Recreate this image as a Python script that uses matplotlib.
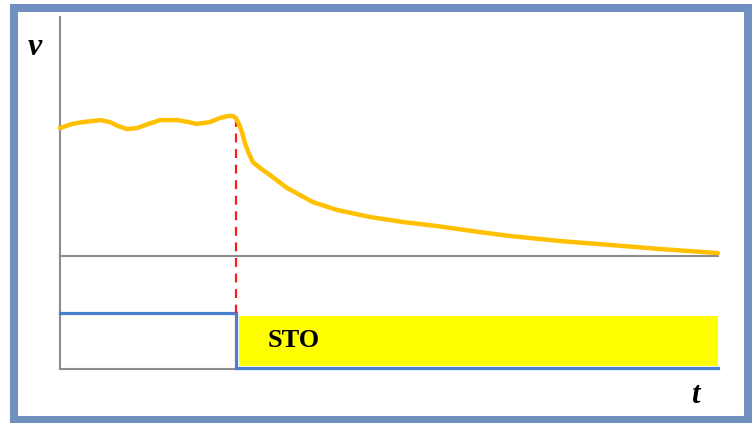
import matplotlib.pyplot as plt
from matplotlib.patches import Rectangle

# speed curve (t, v)
t = [0.0, 0.18, 0.35, 0.61, 0.76, 0.88, 1.02, 1.17, 1.34, 1.52, 1.78, 1.95,
     2.08, 2.28, 2.43, 2.55, 2.63, 2.67, 2.72, 2.77, 2.81, 2.86, 2.93, 3.04,
     3.19, 3.45, 3.84, 4.21, 4.71, 5.21, 5.73, 6.38, 6.84, 7.60, 8.36, 9.12,
     10.0]
v = [9.14, 9.43, 9.57, 9.71, 9.57, 9.29, 9.07, 9.14, 9.43, 9.71, 9.71, 9.57,
     9.43, 9.57, 9.86, 10.0, 10.0, 9.86, 9.43, 8.79, 8.07, 7.43, 6.71, 6.29,
     5.79, 4.86, 3.86, 3.29, 2.79, 2.43, 2.14, 1.71, 1.43, 1.07, 0.79, 0.50,
     0.21]

# STO signal
t_sto = 2.67
sig_t = [0.0, t_sto, t_sto, 10.0]
sig_v = [-4.07, -4.07, -8.0, -8.0]
sto_low, sto_high = -7.85, -4.3

fig = plt.figure(figsize=(7.52, 4.23), dpi=100)
ax = fig.add_axes([0, 0, 1, 1])
ax.set_xlim(-0.912, 10.517)
ax.set_ylim(-11.93, 18.29)
ax.axis('off')

# frame around the picture
fig.patches.append(Rectangle((14 / 752, 3.5 / 423), 734 / 752, 411 / 423,
                             transform=fig.transFigure, fill=False,
                             edgecolor='#7090c0', linewidth=5.8))

# axes lines
grey = '#8c8c8c'
ax.plot([0, 0], [-8.1, 17.07], color=grey, lw=1.5)
ax.plot([0, 10], [0, 0], color=grey, lw=1.5)
ax.plot([0, 10], [-8.1, -8.1], color=grey, lw=1.5)

# yellow STO block
ax.add_patch(Rectangle((t_sto + 0.05, sto_low), 10 - t_sto - 0.05,
                       sto_high - sto_low, facecolor='#ffff00', edgecolor='none'))
ax.text(3.55, -6.07, 'STO', family='Liberation Serif', weight='bold',
        fontsize=19, ha='center', va='center')

ax.plot(sig_t, sig_v, color='#4a7fd0', lw=2.3, solid_joinstyle='miter')

# stop instant
ax.plot([t_sto, t_sto], [9.86, -4.1], color='#ff1a1a', lw=1.6,
        dashes=(4, 3))

ax.plot(t, v, color='#ffc000', lw=3.2, solid_capstyle='round',
        solid_joinstyle='round')

ax.text(-0.38, 14.93, 'v', family='Liberation Serif', weight='bold',
        style='italic', fontsize=23, ha='center', va='center')
ax.text(9.65, -9.93, 't', family='Liberation Serif', weight='bold',
        style='italic', fontsize=22, ha='center', va='center')

plt.savefig('out.png', dpi=100)
